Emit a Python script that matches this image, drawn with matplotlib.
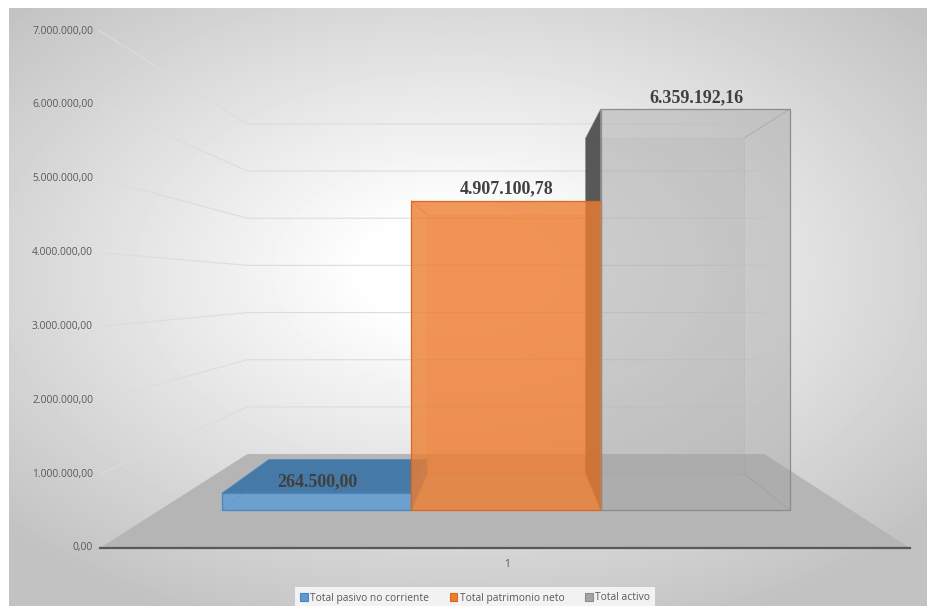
import numpy as np
import matplotlib.pyplot as plt
from matplotlib.patches import Polygon, Patch

# data
categories = ['Total pasivo no corriente', 'Total patrimonio neto', 'Total activo']
values = [264500.00, 4907100.78, 6359192.16]
y_ticks = [0, 1e6, 2e6, 3e6, 4e6, 5e6, 6e6, 7e6]
x_label = '1'
colors = ['#5B9BD5', '#ED7D31', '#A5A5A5']
side_colors = ['#3B73A5', '#B85F20', '#505050']
edge_colors = ['#4A86BE', '#D9691F', '#8C8C8C']


def es_format(v):
    # 1234567.8 -> 1.234.567,80
    return f'{v:,.2f}'.replace(',', 'X').replace('.', ',').replace('X', '.')


# one-point perspective, pixel space
VPX, VPY = 508.0, 288.0
BASE_Y = 510.0            # value 0 on the bar front plane
PX_PER_UNIT = 63.06 / 1e6
S_FLOOR_FRONT, S_FLOOR_BACK = 1.171, 0.748
S_BAR_FRONT, S_BAR_BACK = 1.0, 0.836
U_LEFT, U_RIGHT = 159.6, 851.0
BAR_U0, BAR_W = 222.0, 189.33


def proj(u, v, s):
    y = BASE_Y - v * PX_PER_UNIT
    return VPX + (u - VPX) * s, VPY + (y - VPY) * s


def face(pts, **kw):
    return Polygon([proj(*p) for p in pts], closed=True, **kw)


fig = plt.figure(figsize=(9.28, 6.06), dpi=100)
ax = fig.add_axes([0, 0, 1, 1])
ax.set_axis_off()

# chart area background, radial gradient
W, H = 919, 598
xx, yy = np.meshgrid(np.linspace(-1, 1, W), np.linspace(-1, 1, H))
r = np.sqrt((xx + 0.02) ** 2 + ((yy + 0.12) * 1.05) ** 2)
bg = 1.0 - 0.24 * np.clip((r - 0.2) / 1.15, 0, 1)
ax.imshow(bg, cmap='gray', vmin=0, vmax=1, extent=[9, 928, 606, 8],
          aspect='auto', interpolation='bilinear', zorder=0)

# floor
ax.add_patch(face([(U_LEFT, 0, S_FLOOR_FRONT), (U_RIGHT, 0, S_FLOOR_FRONT),
                   (U_RIGHT, 0, S_FLOOR_BACK), (U_LEFT, 0, S_FLOOR_BACK)],
                  facecolor='#B5B5B5', edgecolor='none', zorder=1))

# gridlines on side wall and back wall, tick labels
for t in y_ticks:
    if t > 0:
        p0 = proj(U_LEFT, t, S_FLOOR_FRONT)
        p1 = proj(U_LEFT, t, S_FLOOR_BACK)
        p2 = proj(U_RIGHT, t, S_FLOOR_BACK)
        ax.plot([p0[0], p1[0], p2[0]], [p0[1], p1[1], p2[1]],
                color='#DCDCDC', lw=0.8, zorder=2)
    lx, ly = proj(U_LEFT, t, S_FLOOR_FRONT)
    ax.text(lx - 7, ly, es_format(t), ha='right', va='center',
            fontsize=7.4, color='#595959', family='Open Sans')

# front axis line
a0 = proj(U_LEFT, 0, S_FLOOR_FRONT)
a1 = proj(U_RIGHT, 0, S_FLOOR_FRONT)
ax.plot([a0[0], a1[0]], [a0[1], a1[1]], color='#595959', lw=1.6, zorder=3)
ax.text((a0[0] + a1[0]) / 2 + 2, a0[1] + 17, x_label, ha='center', va='center',
        fontsize=7.4, color='#595959', family='Open Sans')

# bars: hidden/side faces first, then front faces
for i, v in enumerate(values):
    u0 = BAR_U0 + i * BAR_W
    u1 = u0 + BAR_W
    sf, sb = S_BAR_FRONT, S_BAR_BACK
    ax.add_patch(face([(u0, 0, sb), (u1, 0, sb), (u1, v, sb), (u0, v, sb)],
                      facecolor=colors[i], alpha=0.15, edgecolor=edge_colors[i],
                      lw=0.6, zorder=4))
    if u0 > VPX:
        ax.add_patch(face([(u0, 0, sf), (u0, 0, sb), (u0, v, sb), (u0, v, sf)],
                          facecolor=side_colors[i], alpha=0.95, edgecolor='none',
                          zorder=5))
    if u1 < VPX:
        ax.add_patch(face([(u1, 0, sf), (u1, 0, sb), (u1, v, sb), (u1, v, sf)],
                          facecolor=side_colors[i], alpha=0.8, edgecolor='none',
                          zorder=5))
    if proj(u0, v, sf)[1] > VPY:
        ax.add_patch(face([(u0, v, sf), (u1, v, sf), (u1, v, sb), (u0, v, sb)],
                          facecolor=side_colors[i], alpha=0.9,
                          edgecolor=edge_colors[i], lw=0.6, zorder=5))
    # edges going back from the front corners
    for uu in (u0, u1):
        for vv in (0, v):
            q0, q1 = proj(uu, vv, sf), proj(uu, vv, sb)
            ax.plot([q0[0], q1[0]], [q0[1], q1[1]], color=edge_colors[i],
                    lw=0.6, alpha=0.6, zorder=6)

for i, v in enumerate(values):
    u0 = BAR_U0 + i * BAR_W
    u1 = u0 + BAR_W
    alpha = 0.45 if i == 2 else 0.8
    ax.add_patch(face([(u0, 0, 1.0), (u1, 0, 1.0), (u1, v, 1.0), (u0, v, 1.0)],
                      facecolor=colors[i], alpha=alpha, edgecolor='none', zorder=7))
    ax.add_patch(face([(u0, 0, 1.0), (u1, 0, 1.0), (u1, v, 1.0), (u0, v, 1.0)],
                      facecolor='none', edgecolor=edge_colors[i], lw=0.9, zorder=8))
    tx, ty = proj((u0 + u1) / 2, v, 1.0)
    ax.text(tx + 1, ty - 7, es_format(v), ha='center', va='baseline',
            fontsize=13, fontweight='bold', color='#404040',
            family='Liberation Serif', zorder=9)

ax.set_xlim(0, 928)
ax.set_ylim(606, 0)

handles = [Patch(facecolor=colors[i], edgecolor=edge_colors[i], lw=0.8,
                 label=categories[i]) for i in range(len(categories))]
leg = fig.legend(handles=handles, loc='center', bbox_to_anchor=(475 / 928, 1 - 598 / 606),
                 ncol=3, frameon=True, fancybox=False, facecolor='#F7F7F7',
                 edgecolor='none', framealpha=0.9, handlelength=0.75, handleheight=0.75,
                 handletextpad=0.25, columnspacing=2.0, borderpad=0.5,
                 prop={'family': 'Open Sans', 'size': 7.4})
for t in leg.get_texts():
    t.set_color('#595959')

fig.savefig('out.png', dpi=100)
